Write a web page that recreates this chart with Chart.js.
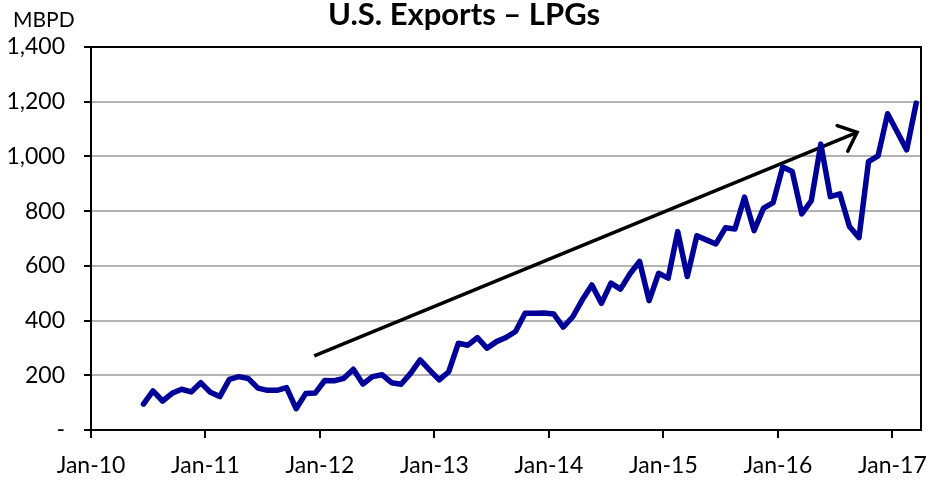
<!DOCTYPE html>
<html>
<head>
<meta charset="utf-8">
<script src="https://cdn.jsdelivr.net/npm/chart.js@4"></script>
<style>
html,body{margin:0;padding:0;background:#fff;}
canvas{display:block;}
</style>
</head>
<body>
<canvas id="c" width="938" height="480"></canvas>
<script>
const months = [
 "Jun-10","Jul-10","Aug-10","Sep-10","Oct-10","Nov-10","Dec-10",
 "Jan-11","Feb-11","Mar-11","Apr-11","May-11","Jun-11","Jul-11","Aug-11","Sep-11","Oct-11","Nov-11","Dec-11",
 "Jan-12","Feb-12","Mar-12","Apr-12","May-12","Jun-12","Jul-12","Aug-12","Sep-12","Oct-12","Nov-12","Dec-12",
 "Jan-13","Feb-13","Mar-13","Apr-13","May-13","Jun-13","Jul-13","Aug-13","Sep-13","Oct-13","Nov-13","Dec-13",
 "Jan-14","Feb-14","Mar-14","Apr-14","May-14","Jun-14","Jul-14","Aug-14","Sep-14","Oct-14","Nov-14","Dec-14",
 "Jan-15","Feb-15","Mar-15","Apr-15","May-15","Jun-15","Jul-15","Aug-15","Sep-15","Oct-15","Nov-15","Dec-15",
 "Jan-16","Feb-16","Mar-16","Apr-16","May-16","Jun-16","Jul-16","Aug-16","Sep-16","Oct-16","Nov-16","Dec-16",
 "Jan-17","Feb-17","Mar-17"
];
const exportsLPG = [
 95,143,106,134,149,139,173,
 138,122,185,195,188,153,145,145,155,78,133,135,
 181,180,189,222,168,195,202,173,167,207,256,219,
 183,213,317,310,338,299,323,338,360,427,427,428,
 424,376,414,476,530,463,537,515,571,616,473,573,
 555,725,561,710,695,680,739,735,851,729,811,831,
 961,945,790,838,1045,853,863,744,703,981,1002,1156,
 1090,1024,1195
];
const xTickLabels = ["Jan-10","Jan-11","Jan-12","Jan-13","Jan-14","Jan-15","Jan-16","Jan-17"];
const yTicks = [0,200,400,600,800,1000,1200,1400];
const arrowFrom = [23.4, 271];   // [month index, MBPD]
const arrowTo = [80.3, 1088];

const MON = {Jan:0,Feb:1,Mar:2,Apr:3,May:4,Jun:5,Jul:6,Aug:7,Sep:8,Oct:9,Nov:10,Dec:11};
function monthPos(lbl){
  const [m,y] = lbl.split('-');
  return (2000 + parseInt(y,10) - 2010) * 12 + MON[m] + 0.5;
}
const points = months.map((m,i)=>({x: monthPos(m), y: exportsLPG[i]}));

const FONT = "Lato, 'Open Sans', sans-serif";

const decor = {
  id:'decor',
  beforeDatasetsDraw(chart){
    const {ctx, scales:{x,y}} = chart;
    const x1 = x.getPixelForValue(arrowFrom[0]), y1 = y.getPixelForValue(arrowFrom[1]);
    const x2 = x.getPixelForValue(arrowTo[0]), y2 = y.getPixelForValue(arrowTo[1]);
    ctx.save();
    ctx.strokeStyle = '#000';
    ctx.lineWidth = 3.5;
    ctx.lineCap = 'butt';
    ctx.beginPath(); ctx.moveTo(x1,y1); ctx.lineTo(x2,y2); ctx.stroke();
    const ang = Math.atan2(y2-y1, x2-x1);
    const L = 21, a = 0.72;
    ctx.lineCap = 'round';
    ctx.beginPath();
    ctx.moveTo(x2 - L*Math.cos(ang - a), y2 - L*Math.sin(ang - a));
    ctx.lineTo(x2, y2);
    ctx.lineTo(x2 - L*Math.cos(ang + a), y2 - L*Math.sin(ang + a));
    ctx.stroke();
    ctx.restore();
  },
  afterDraw(chart){
    const {ctx, chartArea:ca} = chart;
    ctx.save();
    ctx.strokeStyle = '#000';
    ctx.lineWidth = 2;
    ctx.beginPath();
    ctx.moveTo(ca.left, ca.top); ctx.lineTo(ca.right, ca.top); ctx.lineTo(ca.right, ca.bottom);
    ctx.stroke();
    ctx.fillStyle = '#000';
    ctx.textBaseline = 'middle';
    ctx.textAlign = 'center';
    ctx.font = "bold 31px " + FONT;
    ctx.fillText("U.S. Exports \u2013 LPGs", 464, 15);
    ctx.textAlign = 'left';
    ctx.font = "21px " + FONT;
    ctx.fillText("MBPD", 13, 20);
    ctx.restore();
  }
};

new Chart(document.getElementById('c'), {
  type:'line',
  data:{datasets:[{
    label:'U.S. Exports – LPGs',
    data: points,
    borderColor:'#000099',
    borderWidth:5.5,
    pointRadius:0,
    tension:0,
    borderJoinStyle:'round',
    borderCapStyle:'round',
    fill:false
  }]},
  options:{
    responsive:false,
    devicePixelRatio:1,
    animation:false,
    layout:{padding:{top:47,right:17,left:0,bottom:0}},
    plugins:{legend:{display:false},title:{display:false},tooltip:{enabled:false}},
    scales:{
      x:{
        type:'linear', min:0, max:87,
        afterBuildTicks(s){ s.ticks = xTickLabels.map((_,i)=>({value:i*12})); },
        afterFit(s){ s.height = 50; s.paddingLeft = 0; s.paddingRight = 0; },
        ticks:{
          autoSkip:false, maxRotation:0, padding:14,
          color:'#000', font:{family:FONT, size:23},
          callback(v){ return xTickLabels[Math.round(v/12)]; }
        },
        grid:{drawOnChartArea:false, drawTicks:true, tickLength:8, tickColor:'#000', lineWidth:2},
        border:{color:'#000', width:2}
      },
      y:{
        min:0, max:1400,
        afterBuildTicks(s){ s.ticks = yTicks.map(v=>({value:v})); },
        afterFit(s){ s.width = 91; s.paddingTop = 0; s.paddingBottom = 0; },
        ticks:{
          color:'#000', padding:19, font:{family:FONT, size:23},
          callback(v){ return v===0 ? '-' : v.toLocaleString('en-US'); }
        },
        grid:{color:'#b3b3b3', lineWidth:2, tickLength:7, tickColor:'#000', tickWidth:2},
        border:{color:'#000', width:2}
      }
    }
  },
  plugins:[decor]
});
</script>
</body>
</html>
